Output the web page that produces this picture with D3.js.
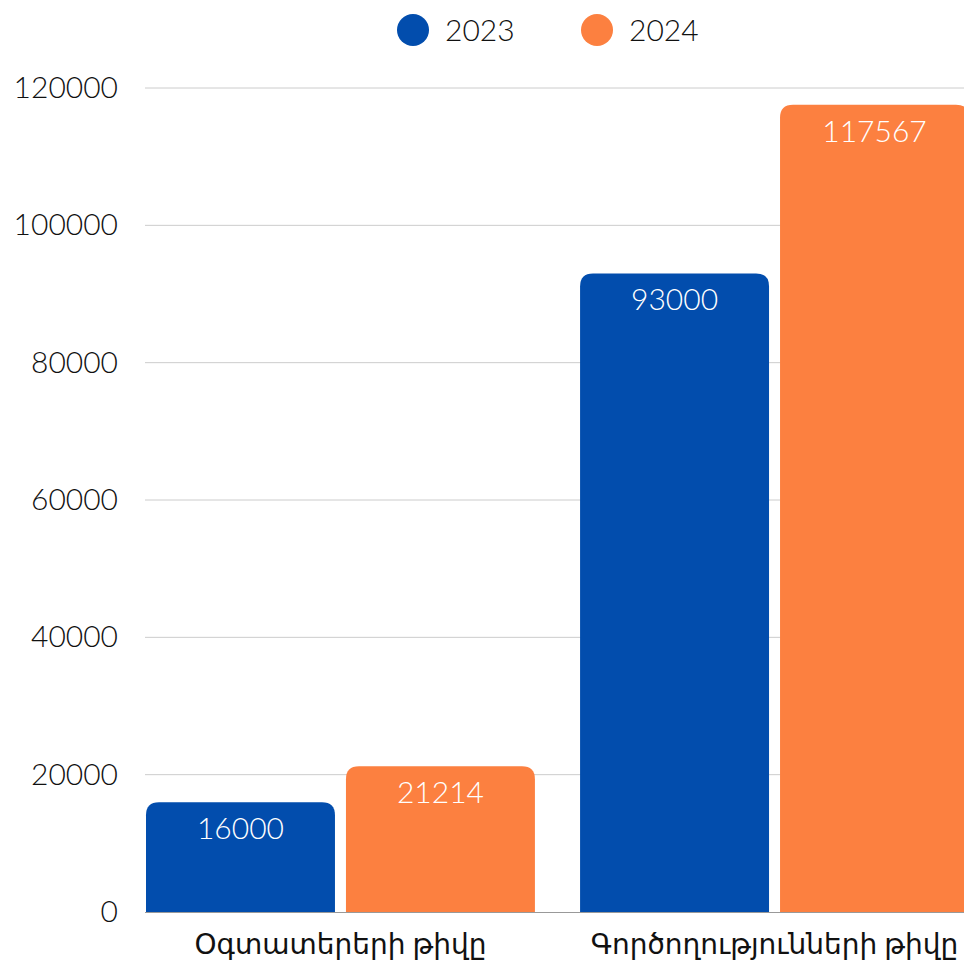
<!DOCTYPE html>
<html>
<head>
<meta charset="utf-8">
<script src="https://cdn.jsdelivr.net/npm/d3@7"></script>
<style>
  body { margin: 0; background: #fff; }
  svg { display: block; font-family: Lato, "DejaVu Sans", sans-serif; }
</style>
</head>
<body>
<svg id="chart" width="964" height="964"></svg>
<script>
const categories = ["Օգտատերերի թիվը", "Գործողությունների թիվը"];
const seriesNames = ["2023", "2024"];
const values2023 = [16000, 93000];
const values2024 = [21214, 117567];
const yTicks = [0, 20000, 40000, 60000, 80000, 100000, 120000];
const colors = ["#024dad", "#fc8040"];

const svg = d3.select("#chart");
const width = +svg.attr("width");
const height = +svg.attr("height");

const margin = { left: 145, top: 88, bottom: 912 };

// Scales
const y = d3.scaleLinear()
  .domain([0, 120000])
  .range([margin.bottom, margin.top]);

const x0 = d3.scaleBand()
  .domain(categories)
  .range([146, 969])
  .paddingInner(0.104)
  .paddingOuter(0);

const x1 = d3.scaleBand()
  .domain(seriesNames)
  .range([0, x0.bandwidth()])
  .paddingInner(0.055);

const rows = categories.map((c, i) => ({
  category: c,
  values: [
    { key: "2023", value: values2023[i] },
    { key: "2024", value: values2024[i] }
  ]
}));

const color = d3.scaleOrdinal().domain(seriesNames).range(colors);

// Gridlines
svg.append("g")
  .selectAll("line")
  .data(yTicks.filter(d => d > 0))
  .enter()
  .append("line")
  .attr("x1", margin.left)
  .attr("x2", width)
  .attr("y1", d => y(d))
  .attr("y2", d => y(d))
  .attr("stroke", "#cccccc")
  .attr("stroke-width", 1);

// Y axis labels
const yAxis = d3.axisLeft(y).tickValues(yTicks).tickSize(0).tickPadding(27).tickFormat(d3.format("d"));
svg.append("g")
  .attr("transform", `translate(${margin.left},0)`)
  .call(yAxis)
  .call(g => g.select(".domain").remove())
  .selectAll("text")
  .attr("font-family", "Lato, 'DejaVu Sans', sans-serif")
  .attr("font-size", 30)
  .attr("font-weight", 300)
  .attr("fill", "#111");

// Rounded-top bar path
function topRounded(x, yTop, w, h, r) {
  r = Math.min(r, h, w / 2);
  return `M${x},${yTop + h}V${yTop + r}Q${x},${yTop} ${x + r},${yTop}` +
    `H${x + w - r}Q${x + w},${yTop} ${x + w},${yTop + r}V${yTop + h}Z`;
}

// Bars
const groups = svg.append("g")
  .selectAll("g")
  .data(rows)
  .enter()
  .append("g")
  .attr("transform", d => `translate(${x0(d.category)},0)`);

groups.selectAll("path")
  .data(d => d.values)
  .enter()
  .append("path")
  .attr("d", d => topRounded(x1(d.key), y(d.value), x1.bandwidth(), y(0) - y(d.value), 13))
  .attr("fill", d => color(d.key));

groups.selectAll("text")
  .data(d => d.values)
  .enter()
  .append("text")
  .attr("x", d => x1(d.key) + x1.bandwidth() / 2)
  .attr("y", d => y(d.value) + 37)
  .attr("text-anchor", "middle")
  .attr("font-size", 30)
  .attr("font-weight", 300)
  .attr("fill", "#fff")
  .text(d => d.value);

// Baseline
svg.append("line")
  .attr("x1", margin.left)
  .attr("x2", width)
  .attr("y1", y(0) + 0.5)
  .attr("y2", y(0) + 0.5)
  .attr("stroke", "#999")
  .attr("stroke-width", 1);

// Category labels
svg.append("g")
  .selectAll("text")
  .data(categories)
  .enter()
  .append("text")
  .attr("x", d => x0(d) + x0.bandwidth() / 2)
  .attr("y", 954)
  .attr("text-anchor", "middle")
  .attr("font-size", 28)
  .attr("fill", "#111")
  .text(d => d);

// Legend
const legend = svg.append("g")
  .selectAll("g")
  .data(seriesNames)
  .enter()
  .append("g")
  .attr("transform", (d, i) => `translate(${413 + i * 184},30)`);

legend.append("circle")
  .attr("r", 16)
  .attr("fill", d => color(d));

legend.append("text")
  .attr("x", 32)
  .attr("y", 11)
  .attr("font-size", 30)
  .attr("font-weight", 300)
  .attr("fill", "#111")
  .text(d => d);
</script>
</body>
</html>
